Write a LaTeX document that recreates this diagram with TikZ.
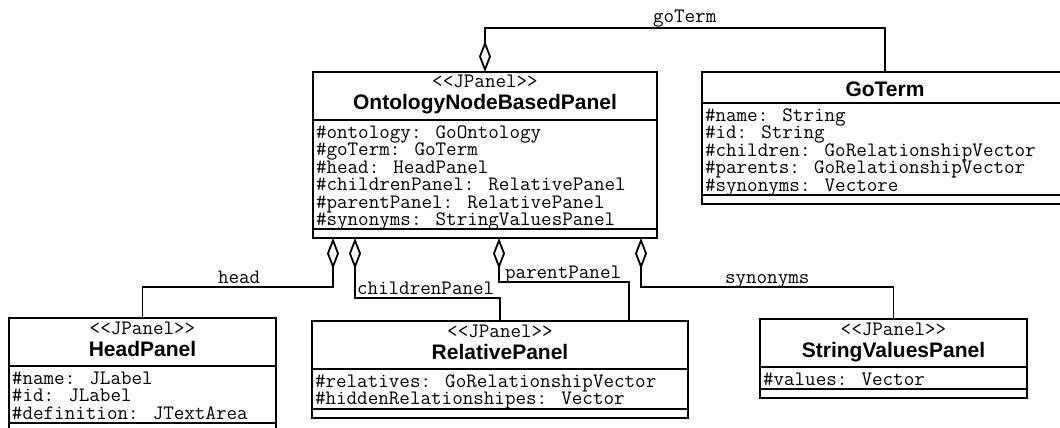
\documentclass[tikz,border=0pt]{standalone}
\usepackage{fontspec}
\setsansfont{Liberation Sans}
\usetikzlibrary{arrows.meta}
\tikzset{
  every node/.style={inner sep=0pt, outer sep=0pt},
  cls/.style={draw, line width=1.8pt, fill=white, rectangle, anchor=north west},
  sep/.style={line width=1.8pt},
  mono/.style={font=\fontsize{20.5}{20}\ttfamily, text height=12pt, text depth=4pt},
  title/.style={font=\fontsize{21}{24}\sffamily\bfseries, anchor=base},
  stereo/.style={mono, anchor=base},
  attr/.style={mono, anchor=base west},
  role/.style={mono, anchor=base west},
  agg/.style={line width=1.8pt, {Diamond[open,length=31pt,width=12pt]}-},
}
\newcommand{\stp}{<\kern0pt<JPanel>\kern0pt>}
\begin{document}
\begin{tikzpicture}[x=1pt,y=-1pt]
\useasboundingbox (0,0) rectangle (1060,428);
\fill[white] (0,0) rectangle (1060,428);
\clip (0,0) rectangle (1060,428);

% ---- OntologyNodeBasedPanel
\node[cls, minimum width=344pt, minimum height=166pt] (onb) at (313,72) {};
\draw[sep] ([yshift=-48pt]onb.north west) -- ([yshift=-48pt]onb.north east);
\draw[sep] ([yshift=9pt]onb.south west) -- ([yshift=9pt]onb.south east);
\node[stereo] (onb-st) at (485,88) {\stp};
\node[title] (onb-t) at (485,110) {OntologyNodeBasedPanel};
\foreach \t [count=\i] in {\#ontology: GoOntology, \#goTerm: GoTerm, \#head: HeadPanel,
  \#childrenPanel: RelativePanel, \#parentPanel: RelativePanel, \#synonyms: StringValuesPanel}
  \node[attr] (onb-a\i) at (316,{138+(\i-1)*17.5}) {\t};

% ---- GoTerm
\node[cls, minimum width=366pt, minimum height=132pt] (goterm) at (702,72) {};
\draw[sep] ([yshift=-31pt]goterm.north west) -- ([yshift=-31pt]goterm.north east);
\draw[sep] ([yshift=9pt]goterm.south west) -- ([yshift=9pt]goterm.south east);
\node[title] (goterm-t) at (885,96) {GoTerm};
\foreach \t [count=\i] in {\#name: String, \#id: String, \#children: GoRelationshipVector,
  \#parents: GoRelationshipVector, \#synonyms: Vectore}
  \node[attr] (goterm-a\i) at (705,{121+(\i-1)*17.5}) {\t};

% ---- HeadPanel
\node[cls, minimum width=267pt, minimum height=114pt] (head) at (9,318) {};
\draw[sep] ([yshift=-48pt]head.north west) -- ([yshift=-48pt]head.north east);
\draw[sep] ([yshift=9pt]head.south west) -- ([yshift=9pt]head.south east);
\node[stereo] (head-st) at (142.5,334) {\stp};
\node[title] (head-t) at (142.5,356) {HeadPanel};
\foreach \t [count=\i] in {\#name: JLabel, \#id: JLabel, \#definition: JTextArea}
  \node[attr] (head-a\i) at (12,{384+(\i-1)*17.5}) {\t};

% ---- RelativePanel
\node[cls, minimum width=376pt, minimum height=97pt] (rel) at (312,321) {};
\draw[sep] ([yshift=-48pt]rel.north west) -- ([yshift=-48pt]rel.north east);
\draw[sep] ([yshift=9pt]rel.south west) -- ([yshift=9pt]rel.south east);
\node[stereo] (rel-st) at (500,337) {\stp};
\node[title] (rel-t) at (500,359) {RelativePanel};
\foreach \t [count=\i] in {\#relatives: GoRelationshipVector, \#hiddenRelationshipes: Vector}
  \node[attr] (rel-a\i) at (315,{387+(\i-1)*17.5}) {\t};

% ---- StringValuesPanel
\node[cls, minimum width=267pt, minimum height=79pt] (svp) at (760,319) {};
\draw[sep] ([yshift=-48pt]svp.north west) -- ([yshift=-48pt]svp.north east);
\draw[sep] ([yshift=9pt]svp.south west) -- ([yshift=9pt]svp.south east);
\node[stereo] (svp-st) at (893.5,335) {\stp};
\node[title] (svp-t) at (893.5,357) {StringValuesPanel};
\node[attr] (svp-a1) at (763,385) {\#values: Vector};

% ---- aggregations
\coordinate (dh) at ([xshift=20pt]onb.south west);
\coordinate (dc) at ([xshift=42pt]onb.south west);
\coordinate (dp) at ([xshift=186pt]onb.south west);
\coordinate (ds) at ([xshift=-16pt]onb.south east);
\coordinate (rp) at ([xshift=317pt]rel.north west);

\draw[agg] (onb.north) -- ++(0,-44) -| (goterm.north);
\draw[agg] (dh) -- ++(0,49) -| (head.north);
\draw[agg] (dc) -- ++(0,60) -| (rel.north);
\draw[agg] (dp) -- ++(0,44) -| (rp);
\draw[agg] (ds) -- ++(0,49) -| (svp.north);

% ---- role names
\node[role] (l-goterm) at (653,23) {goTerm};
\node[role] (l-head) at (218,283) {head};
\node[role] (l-children) at (357,294) {childrenPanel};
\node[role] (l-parent) at (505,278) {parentPanel};
\node[role] (l-syn) at (725,283) {synonyms};
\end{tikzpicture}
\end{document}
